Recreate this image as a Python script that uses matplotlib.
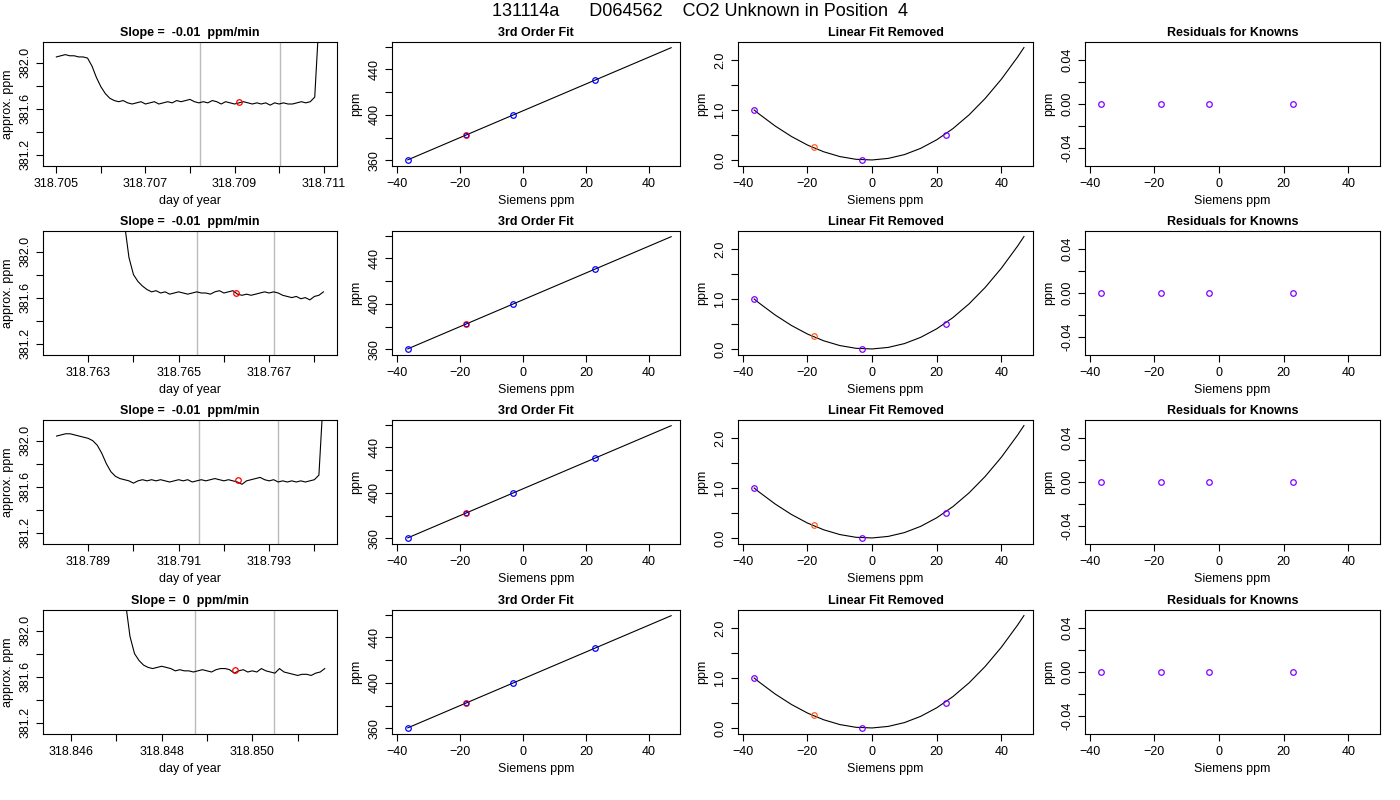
import numpy as np
import matplotlib
matplotlib.use("Agg")
import matplotlib.pyplot as plt

plt.rcParams['font.family'] = ['Liberation Sans', 'DejaVu Sans']

main_title = "131114a      D064562    CO2 Unknown in Position  4"
slope_titles = ["Slope =  -0.01  ppm/min", "Slope =  -0.01  ppm/min",
                "Slope =  -0.01  ppm/min", "Slope =  0  ppm/min"]

# time series: start, end day-of-year and values
ts_start = [318.7050, 318.7638, 318.7883, 318.8472]
ts_end = [318.7109, 318.7682, 318.7942, 318.8516]
ts1 = [382.05,382.06,382.07,382.06,382.06,382.05,382.05,382.04,381.97,381.87,381.79,381.73,381.69,381.67,381.66,381.67,381.65,381.64,381.65,381.66,381.64,381.65,381.66,381.64,381.65,381.66,381.65,381.67,381.66,381.67,381.68,381.66,381.65,381.66,381.65,381.67,381.66,381.64,381.66,381.65,381.64,381.65,381.66,381.65,381.64,381.65,381.64,381.65,381.63,381.65,381.64,381.65,381.64,381.64,381.65,381.66,381.65,381.66,381.70,382.40]
ts2 = [382.25,381.95,381.80,381.74,381.70,381.67,381.65,381.66,381.64,381.65,381.63,381.64,381.65,381.64,381.63,381.64,381.65,381.64,381.64,381.63,381.65,381.66,381.64,381.65,381.66,381.63,381.62,381.63,381.62,381.63,381.64,381.65,381.64,381.65,381.64,381.62,381.61,381.60,381.61,381.59,381.60,381.58,381.61,381.62,381.65]
ts3 = [382.04,382.05,382.06,382.06,382.05,382.04,382.03,382.02,382.00,381.96,381.89,381.80,381.73,381.69,381.67,381.66,381.65,381.63,381.65,381.66,381.65,381.66,381.65,381.66,381.65,381.64,381.65,381.66,381.65,381.66,381.64,381.65,381.66,381.65,381.66,381.67,381.66,381.65,381.66,381.65,381.64,381.62,381.65,381.66,381.67,381.68,381.66,381.65,381.66,381.64,381.65,381.64,381.65,381.64,381.65,381.64,381.65,381.66,381.70,382.40]
ts4 = [382.25,381.95,381.80,381.74,381.70,381.68,381.67,381.68,381.69,381.68,381.67,381.65,381.66,381.65,381.65,381.64,381.65,381.66,381.65,381.64,381.66,381.67,381.67,381.66,381.63,381.65,381.66,381.64,381.65,381.64,381.67,381.65,381.64,381.63,381.67,381.64,381.63,381.62,381.61,381.62,381.62,381.61,381.63,381.64,381.67]
series = [ts1, ts2, ts3, ts4]
xlims_t = [(318.7047, 318.7113), (318.7620, 318.7685), (318.7880, 318.7945), (318.84538, 318.85187)]
xticks_t = [[318.705, 318.706, 318.707, 318.708, 318.709, 318.710, 318.711],
            [318.763, 318.764, 318.765, 318.766, 318.767, 318.768],
            [318.789, 318.790, 318.791, 318.792, 318.793, 318.794],
            [318.846, 318.847, 318.848, 318.849, 318.850, 318.851]]
vlines = [(318.70823, 318.71002), (318.7654, 318.7671), (318.79144, 318.79320), (318.84873, 318.85049)]
red_x = [318.70911, 318.76627, 318.79232, 318.84962]
red_y = [381.66, 381.64, 381.66, 381.66]

# calibration
known_x = [-36.5, -3.0, 23.0]
known_y = [360.4, 400.0, 430.6]
unk_x = -18.0
unk_y = 382.3
fit_line_x = [-36.5, 47.0]
fit_line_y = [360.4, 459.0]
curve_x = [-36.5,-35,-30,-25,-20,-15,-10,-5,0,5,10,15,20,25,30,35,40,45,47]
curve_y = [1.0,0.921,0.680,0.472,0.299,0.165,0.069,0.014,0.001,0.032,0.108,0.232,0.404,0.627,0.902,1.231,1.615,2.056,2.249]
lin_known_x = [-36.5, -3.0, 23.0]
lin_known_y = [1.0, 0.0, 0.5]
lin_unk_y = 0.27
resid_x = [-36.5, -18.0, -3.0, 23.0]
resid_y = [0.0, 0.0, 0.0, 0.0]

fig = plt.figure(figsize=(14, 8), dpi=100)
W, H = 1400, 800
col_l = [43, 392, 738, 1085]
col_w = [294, 288, 295, 295]
row_t = [42, 231, 420, 610]
rh = 124

def style(ax):
    ax.tick_params(direction='out', length=5, labelsize=9, width=0.8)
    for s in ax.spines.values():
        s.set_linewidth(0.8)
    for lab in ax.get_yticklabels():
        lab.set_rotation(90)
        lab.set_va('center')

circ = dict(marker='o', mfc='none', ms=4, mew=0.9, ls='none')
for r in range(4):
    axs = [fig.add_axes([col_l[c] / W, 1 - (row_t[r] + rh) / H, col_w[c] / W, rh / H]) for c in range(4)]
    # col 1
    ax = axs[0]
    y = series[r]
    x = np.linspace(ts_start[r], ts_end[r], len(y))
    for v in vlines[r]:
        ax.axvline(v, color='#bbbbbb', lw=1)
    ax.plot(x, y, color='black', lw=0.8)
    ax.plot([red_x[r]], [red_y[r]], color='red', **circ)
    ax.set_xlim(*xlims_t[r]); ax.set_ylim(381.1, 382.18)
    ax.set_xticks(xticks_t[r])
    ax.set_xticklabels([f"{t:.3f}" if i % 2 == 0 else "" for i, t in enumerate(xticks_t[r])])
    ax.set_yticks([381.2, 381.4, 381.6, 381.8, 382.0])
    ax.set_yticklabels(["381.2", "", "381.6", "", "382.0"])
    ax.set_xlabel("day of year", fontsize=9)
    ax.set_ylabel("approx. ppm", fontsize=9)
    ax.set_title(slope_titles[r], fontsize=9, fontweight='bold', pad=4)
    style(ax)
    # col 2
    ax = axs[1]
    ax.plot(fit_line_x, fit_line_y, color='black', lw=0.8)
    ax.plot(known_x, known_y, color='blue', **circ)
    ax.plot([unk_x], [unk_y], color='red', **circ)
    ax.plot([unk_x], [unk_y], color='blue', marker='o', mfc='none', ms=3, mew=0.6, ls='none')
    ax.set_xlim(-41.5, 49.8); ax.set_ylim(355, 464)
    ax.set_xticks([-40, -20, 0, 20, 40])
    ax.set_yticks([360, 380, 400, 420, 440, 460])
    ax.set_yticklabels(["360", "", "400", "", "440", ""])
    ax.set_xlabel("Siemens ppm", fontsize=9); ax.set_ylabel("ppm", fontsize=9)
    ax.set_title("3rd Order Fit", fontsize=9, fontweight='bold', pad=4)
    style(ax)
    # col 3
    ax = axs[2]
    ax.plot(curve_x, curve_y, color='black', lw=0.8)
    ax.plot(lin_known_x, lin_known_y, color='#8000ff', **circ)
    ax.plot([unk_x], [lin_unk_y], color='#ff6020', **circ)
    ax.set_xlim(-41.5, 49.8); ax.set_ylim(-0.12, 2.36)
    ax.set_xticks([-40, -20, 0, 20, 40])
    ax.set_yticks([0, 0.5, 1.0, 1.5, 2.0])
    ax.set_yticklabels(["0.0", "", "1.0", "", "2.0"])
    ax.set_xlabel("Siemens ppm", fontsize=9); ax.set_ylabel("ppm", fontsize=9)
    ax.set_title("Linear Fit Removed", fontsize=9, fontweight='bold', pad=4)
    style(ax)
    # col 4
    ax = axs[3]
    ax.plot(resid_x, resid_y, color='#8000ff', **circ)
    ax.set_xlim(-41.5, 49.8); ax.set_ylim(-0.056, 0.056)
    ax.set_xticks([-40, -20, 0, 20, 40])
    ax.set_yticks([-0.04, -0.02, 0, 0.02, 0.04])
    ax.set_yticklabels(["-0.04", "", "0.00", "", "0.04"])
    ax.set_xlabel("Siemens ppm", fontsize=9); ax.set_ylabel("ppm", fontsize=9)
    ax.set_title("Residuals for Knowns", fontsize=9, fontweight='bold', pad=4)
    style(ax)

fig.text(0.5, 1 - 12 / H, main_title, ha='center', va='center', fontsize=13)
fig.savefig("out.png", dpi=100)
